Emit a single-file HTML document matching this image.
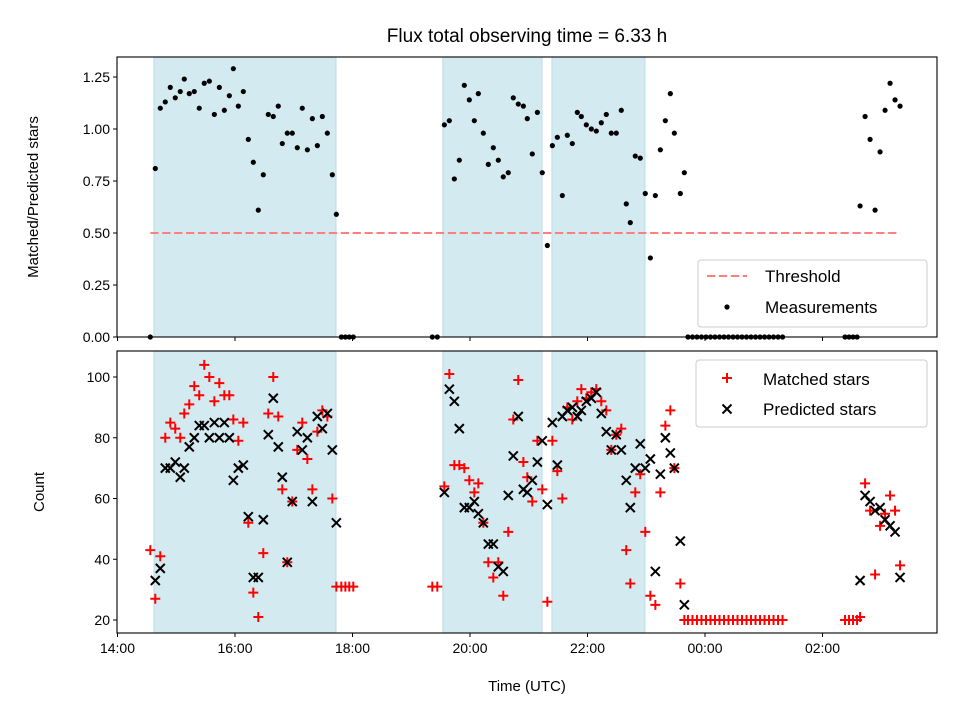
<!DOCTYPE html>
<html><head><meta charset="utf-8"><style>
body{margin:0;background:#fff}
svg{display:block;font-family:"Liberation Sans","DejaVu Sans",sans-serif}
</style></head><body>
<svg id="chart" width="960" height="720" viewBox="0 0 960 720" xmlns="http://www.w3.org/2000/svg">
<rect width="960" height="720" fill="#fff"/>
<text x="527" y="42" font-size="19" text-anchor="middle">Flux total observing time = 6.33 h</text>
<g id="topPanel"></g><g id="botPanel"></g>
</svg>
<script>
// minutes after 14:00 UTC
const times=[33.5,38.6,43.7,48.8,53.9,59.0,64.1,68.2,73.3,78.4,83.5,88.6,93.8,98.9,104.0,109.1,114.2,118.3,123.4,128.5,133.6,138.7,143.8,148.9,154.0,159.1,164.2,168.3,173.4,178.5,183.6,188.7,193.9,199.0,204.1,209.2,214.3,219.4,223.5,228.6,232.7,236.7,240.8,321.5,326.6,333.8,338.9,344.0,349.1,354.2,359.3,364.4,368.5,373.6,378.7,383.8,388.9,394.0,399.1,404.2,409.3,414.5,418.5,423.6,428.8,433.8,439.0,444.1,449.2,454.3,459.4,464.5,469.6,473.7,478.8,483.9,489.0,494.1,499.2,504.3,509.4,514.5,519.6,523.7,528.8,533.9,539.0,544.2,549.3,554.4,559.5,564.6,568.7,574.8,578.9,582.6,587.2,591.8,596.4,601.0,605.6,610.2,614.8,619.4,624.0,628.6,633.2,637.8,642.4,647.0,651.6,656.2,660.8,665.4,670.0,674.6,679.2,743.0,747.1,751.2,755.3,758.4,763.5,768.6,773.7,778.8,783.9,789.0,794.1,799.2];
const ratio=[0,.81,1.10,1.13,1.20,1.15,1.18,1.24,1.17,1.18,1.10,1.22,1.23,1.07,1.20,1.09,1.16,1.29,1.11,1.18,.95,.84,.61,.78,1.07,1.06,1.11,.93,.98,.98,.91,1.10,.90,1.05,.92,1.06,.98,.78,.59,0,0,0,0,0,0,1.02,1.04,.76,.85,1.21,1.14,1.04,1.17,.98,.83,.91,.85,.77,.79,1.15,1.12,1.11,1.05,.88,1.08,.79,.44,.92,.96,.68,.97,.93,1.08,1.06,1.02,1.00,.99,1.03,1.07,.98,.98,1.09,.64,.55,.87,.86,.69,.38,.68,.90,1.04,1.17,.98,.69,.79,0,0,0,0,0,0,0,0,0,0,0,0,0,0,0,0,0,0,0,0,0,0,0,0,0,0,.63,1.06,.95,.61,.89,1.09,1.22,1.14,1.11];
const matched=[43,27,41,80,85,83,80,88,91,97,94,104,100,92,98,94,94,86,79,85,52,29,21,42,88,100,87,63,39,59,76,85,73,63,82,89,87,60,31,31,31,31,31,31,31,64,101,71,71,70,66,62,65,52,39,34,39,28,49,86,99,72,67,59,79,63,26,79,69,60,90,86,92,96,93,95,96,92,89,76,81,83,43,32,62,68,49,28,25,62,84,89,70,32,20,20,20,20,20,20,20,20,20,20,20,20,20,20,20,20,20,20,20,20,20,20,20,20,20,20,20,21,65,56,35,51,55,61,56,38];
const predicted=[null,33,37,70,70,72,67,70,77,80,84,84,80,85,80,85,80,66,70,71,54,34,34,53,81,93,77,67,39,59,82,76,80,59,87,83,88,76,52,null,null,null,null,null,null,62,96,92,83,57,57,59,55,52,45,45,37.5,36,61,74,87,63,62,66,72,79,58,85,71,87,89,90,87,89,92,93,95,88,82,76,81,76,66,57,70,78,70,73,36,68,80,75,70,46,25,null,null,null,null,null,null,null,null,null,null,null,null,null,null,null,null,null,null,null,null,null,null,null,null,null,null,33,61,59,56,57,53,51,49,34];
const spans=[[37.3,223.1],[332.3,433.5],[443.7,538.7]];
const threshold=0.5;
const topTicks=[0,0.25,0.5,0.75,1.0,1.25];
const botTicks=[20,40,60,80,100];
const xTicks=[0,120,240,360,480,600,720];
const xTickLabels=["14:00","16:00","18:00","20:00","22:00","00:00","02:00"];

const NS="http://www.w3.org/2000/svg";
const L=117,R=937;
const T1=57,B1=337,T2=351,B2=633;
const xs=m=>117.5+m*58.75/60;
const y1=v=>337-v*208;
const y2=c=>620-(c-20)*3.0375;
function mk(tag,attrs,parent,text){const e=document.createElementNS(NS,tag);for(const k in attrs)e.setAttribute(k,attrs[k]);if(text!==undefined)e.textContent=text;parent.appendChild(e);return e;}
const topG=document.getElementById('topPanel'),botG=document.getElementById('botPanel');

function panel(g,T,B,name){
  spans.forEach((s,i)=>{const r=mk('rect',{x:xs(s[0]),y:T,width:xs(s[1])-xs(s[0]),height:B-T,fill:'#d4eaf1',stroke:'#b9dbe7','stroke-width':1},g);
    
    });
}
panel(topG,T1,B1,'top');panel(botG,T2,B2,'bottom');

const th=mk('line',{x1:xs(times[0]),x2:xs(times[times.length-1]),y1:y1(threshold),y2:y1(threshold),stroke:'#ff7f7f','stroke-width':2,'stroke-dasharray':'8.3,3.6'},topG);



times.forEach((t,i)=>{
  if(ratio[i]===undefined)return;
  const c=mk('circle',{cx:xs(t),cy:y1(ratio[i]),r:2.6,fill:'#000'},topG);
  
  
});
times.forEach((t,i)=>{
  if(matched[i]===undefined||matched[i]===null)return;
  const x=xs(t),y=y2(matched[i]);
  const p=mk('path',{d:`M${x-5},${y}H${x+5}M${x},${y-5}V${y+5}`,stroke:'#f00','stroke-width':2,fill:'none'},botG);
  
  
});
times.forEach((t,i)=>{
  if(predicted[i]===null||predicted[i]===undefined)return;
  const x=xs(t),y=y2(predicted[i]);
  const p=mk('path',{d:`M${x-4.5},${y-4.5}L${x+4.5},${y+4.5}M${x-4.5},${y+4.5}L${x+4.5},${y-4.5}`,stroke:'#000','stroke-width':2,fill:'none'},botG);
  
  
});

[[topG,T1,B1],[botG,T2,B2]].forEach(([g,T,B],k)=>{
  const f=mk('rect',{x:L,y:T,width:R-L,height:B-T,fill:'none',stroke:'#000','stroke-width':1.1},g);
  
  
  xTicks.forEach(m=>{mk('line',{x1:xs(m),x2:xs(m),y1:B,y2:B+4,stroke:'#000','stroke-width':1},g);});
});
topTicks.forEach(v=>{
  mk('line',{x1:L-4,x2:L,y1:y1(v),y2:y1(v),stroke:'#000'},topG);
  const t=mk('text',{x:L-7,y:y1(v)+5,'font-size':14,'text-anchor':'end'},topG,v.toFixed(2));
  
  
});
botTicks.forEach(v=>{
  mk('line',{x1:L-4,x2:L,y1:y2(v),y2:y2(v),stroke:'#000'},botG);
  const t=mk('text',{x:L-7,y:y2(v)+5,'font-size':14,'text-anchor':'end'},botG,String(v));
  
  
});
xTicks.forEach((m,i)=>{
  const t=mk('text',{x:xs(m),y:B2+20,'font-size':14,'text-anchor':'middle'},botG,xTickLabels[i]);
  
  
});
let a=mk('text',{x:0,y:0,'font-size':15,'text-anchor':'middle',transform:'translate(38,197) rotate(-90)'},topG,'Matched/Predicted stars');

a=mk('text',{x:0,y:0,'font-size':15,'text-anchor':'middle',transform:'translate(44,492) rotate(-90)'},botG,'Count');

a=mk('text',{x:527,y:691,'font-size':15,'text-anchor':'middle'},botG,'Time (UTC)');


let lg=mk('g',{},topG);

mk('rect',{x:698,y:260,width:229,height:67,rx:3,fill:'#fff','fill-opacity':0.8,stroke:'#ccc'},lg);
mk('line',{x1:707,x2:747,y1:276,y2:276,stroke:'#ff7f7f','stroke-width':2,'stroke-dasharray':'8.3,3.6'},lg);
mk('text',{x:765,y:282,'font-size':17},lg,'Threshold');
mk('circle',{cx:727,cy:307,r:2.6,fill:'#000'},lg);
mk('text',{x:765,y:313,'font-size':17},lg,'Measurements');
lg=mk('g',{},botG);

mk('rect',{x:696,y:360,width:231,height:67,rx:3,fill:'#fff','fill-opacity':0.8,stroke:'#ccc'},lg);
mk('path',{d:'M722,378H732M727,373V383',stroke:'#f00','stroke-width':2},lg);
mk('text',{x:763,y:385,'font-size':17},lg,'Matched stars');
mk('path',{d:'M722.5,404.5L731.5,413.5M722.5,413.5L731.5,404.5',stroke:'#000','stroke-width':2},lg);
mk('text',{x:763,y:415,'font-size':17},lg,'Predicted stars');
</script>
</body></html>
